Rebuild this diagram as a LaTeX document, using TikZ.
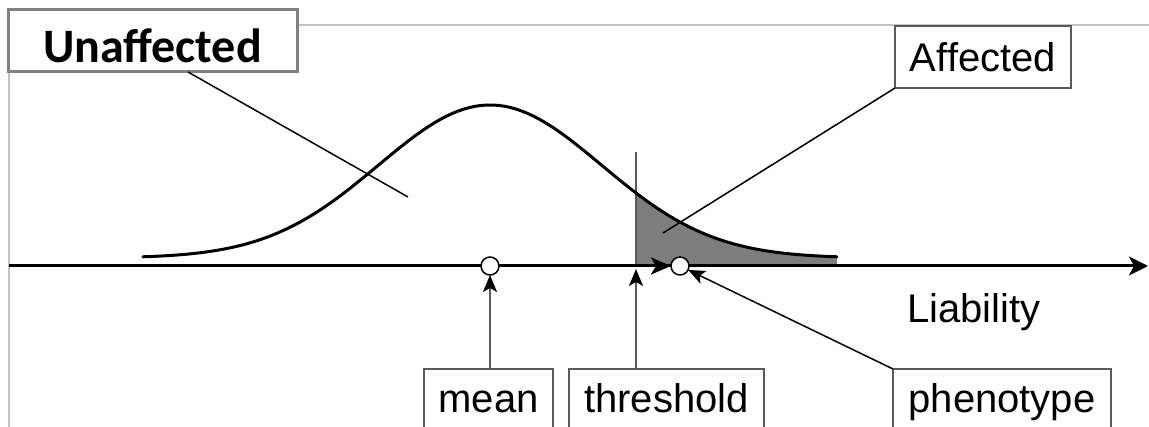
\documentclass[tikz,border=0pt]{standalone}
\usepackage{fontspec}
\setmainfont{Liberation Sans}
\newfontfamily\calfont{Carlito}
\usetikzlibrary{arrows.meta,calc}
\definecolor{boxgray}{HTML}{5A5A5A}
\definecolor{bigbox}{HTML}{808080}
\definecolor{framegray}{HTML}{C4C4C4}
\definecolor{tailgray}{HTML}{7D7D7D}
\tikzset{
  lbox/.style={draw=boxgray, line width=1.5pt, fill=white, inner xsep=0pt, outer sep=0pt,
     font=\fontsize{40}{40}\selectfont, text height=30pt},
  leader/.style={line width=1.5pt, black},
  gleader/.style={line width=1.5pt, draw=boxgray},
  tip/.style={-{Stealth[length=17pt,width=14pt,inset=4pt,color=black]}},
  circ/.style={circle, draw=black, line width=1.5pt, fill=white, minimum size=18pt, inner sep=0pt, outer sep=0pt},
  curve/.style={line width=3pt, black, line cap=round}
}
\begin{document}
\begin{tikzpicture}[x=1pt,y=-1pt]
\useasboundingbox (0,0) rectangle (1149,427);
\clip (0,0) rectangle (1149,427);
% frame
\draw[framegray, line width=1.5pt] (297,25) -- (1149,25);
\draw[framegray, line width=1.5pt] (9,72) -- (9,427);
% shaded tail
\fill[tailgray] (636,266) -- plot[domain=1.308:3.11, samples=60] ({490+111.6*\x},{258-153*exp(-\x*\x/2)}) -- (837,266) -- cycle;
% threshold line above axis
\coordinate (thrtop) at (636,152);
\coordinate (thrbase) at (636,266);
\draw[gleader] (thrtop) -- (thrbase);
% axis
\coordinate (axs) at (9,266);
\coordinate (axe) at (1148,266);
\draw[line width=3pt, -{Stealth[length=19pt,width=19pt,inset=5pt]}] (axs) -- (axe);
% curve
\draw[curve] plot[domain=-3.11:3.11, samples=120] ({490+111.6*\x},{258-153*exp(-\x*\x/2)});
% circles
\node[circ] (meanc) at (490,266) {};
\node[circ] (phenc) at (680,266) {};
% threshold -> phenotype arrow on axis
\draw[line width=3pt, -{Stealth[length=20pt,width=17pt,inset=5pt]}] (thrbase) -- (phenc.west);
% boxes
\node[draw=bigbox, line width=3pt, fill=white, anchor=north west, minimum width=289pt, inner xsep=0pt, outer sep=0pt,
      text height=44pt, text depth=0pt, inner ysep=9pt, font=\calfont\bfseries\fontsize{48}{48}\selectfont]
      (unaff) at (8,10) {Unaffected};
\node[lbox, anchor=north west, minimum width=176pt, text depth=0pt, inner ysep=16pt] (aff) at (895,26) {Affected};
\node[lbox, anchor=north west, minimum width=129pt, text depth=20pt, inner ysep=14pt] (mean) at (424,369) {mean};
\node[lbox, anchor=north west, minimum width=195pt, text depth=20pt, inner ysep=14pt] (thr) at (569,369) {threshold};
\node[lbox, anchor=north west, minimum width=218pt, text depth=20pt, inner ysep=14pt] (phen) at (893,369) {phenotype};
\node[anchor=base west, inner sep=0pt, font=\fontsize{40}{40}\selectfont] (liab) at (907,323) {Liability};
% leaders
\coordinate (ul) at (408,197);
\coordinate (al) at (663,233);
\draw[leader] ($(unaff.south west)+(180,0)$) -- (ul);
\draw[leader] (aff.south west) -- (al);
\draw[gleader, tip] (mean.north -| meanc) -- (meanc.south);
\draw[gleader, tip, shorten >=3pt] (thr.north -| thrbase) -- (thrbase);
\draw[leader, tip] (phen.north west) -- (phenc);
\end{tikzpicture}
\end{document}
